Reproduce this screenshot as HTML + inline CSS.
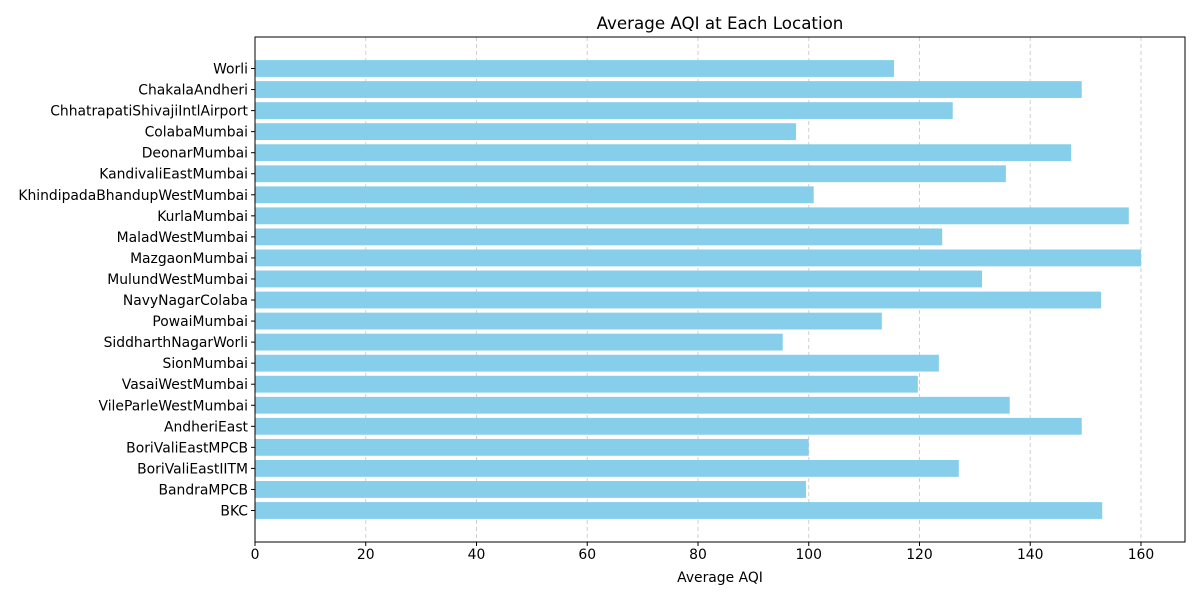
<!DOCTYPE html>
<html><head><meta charset="utf-8"><style>
body{margin:0;background:#fff;font-family:"Liberation Sans","DejaVu Sans",sans-serif;}
svg text{font-family:"DejaVu Sans","Liberation Sans",sans-serif;}
</style></head><body>
<svg id="chart" width="1200" height="600" xmlns="http://www.w3.org/2000/svg">
<rect width="1200" height="600" fill="#fff"/>
<text x="720" y="29" font-size="16.7" text-anchor="middle" fill="#000">Average AQI at Each Location</text>
<g id="grid"></g><g id="bars"></g><g id="yticks"></g><g id="xticks"></g>
<rect x="255" y="37" width="930" height="505" fill="none" stroke="#000" stroke-width="1"/>
<text x="720" y="582" font-size="13.9" text-anchor="middle" fill="#000">Average AQI</text>
</svg>
<script>
const categories=["Worli","ChakalaAndheri","ChhatrapatiShivajiIntlAirport","ColabaMumbai","DeonarMumbai","KandivaliEastMumbai","KhindipadaBhandupWestMumbai","KurlaMumbai","MaladWestMumbai","MazgaonMumbai","MulundWestMumbai","NavyNagarColaba","PowaiMumbai","SiddharthNagarWorli","SionMumbai","VasaiWestMumbai","VileParleWestMumbai","AndheriEast","BoriValiEastMPCB","BoriValiEastIITM","BandraMPCB","BKC"];
const values=[115.4,149.3,126.0,97.7,147.4,135.6,100.9,157.8,124.1,160.0,131.3,152.8,113.2,95.3,123.5,119.7,136.3,149.3,100.0,127.1,99.5,153.0];
const xTicks=[0,20,40,60,80,100,120,140,160];
const NS="http://www.w3.org/2000/svg";
const L=255,R=1185,T=37,B=542,XMAX=167.95;
const x=v=>L+v/XMAX*(R-L);
const step=(510-68)/21;
const y=i=>68.5+i*step;
function mk(t,a,p){const e=document.createElementNS(NS,t);for(const k in a)e.setAttribute(k,a[k]);document.getElementById(p).appendChild(e);return e;}
xTicks.forEach(t=>{
 const g=mk('line',{x1:x(t),x2:x(t),y1:T,y2:B,stroke:'#d0d0d0','stroke-dasharray':'4,3','stroke-width':1},'grid');
 
 
 const tk=mk('line',{x1:x(t),x2:x(t),y1:B,y2:B+4,stroke:'#000'},'xticks');
 
 
 const tx=mk('text',{x:x(t),y:B+17,'font-size':13.9,'text-anchor':'middle',fill:'#000'},'xticks');
 tx.textContent=t;
 
 
});
categories.forEach((c,i)=>{
 const h=step*0.8;
 const r=mk('rect',{x:L,y:y(i)-h/2,width:x(values[i])-L,height:h,fill:'#87ceeb'},'bars');
 
 
 const tk=mk('line',{x1:L-4,x2:L,y1:y(i),y2:y(i),stroke:'#000'},'yticks');
 
 
 const tx=mk('text',{x:L-7,y:y(i)+5,'font-size':13.9,'text-anchor':'end',fill:'#000'},'yticks');
 tx.textContent=c;
 
 
});
</script>
</body></html>
